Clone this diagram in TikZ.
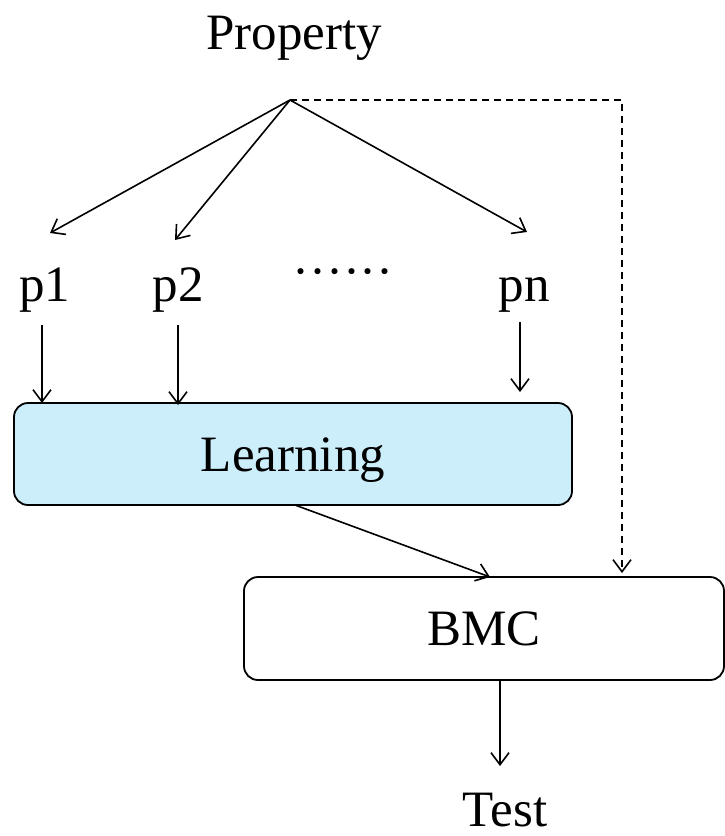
\documentclass[tikz,border=0pt]{standalone}
\usepackage{fontspec}
\setmainfont{Liberation Serif}
\usetikzlibrary{arrows.meta}
\definecolor{lightblue}{HTML}{CCEEFB}
\tikzset{
  lbl/.style={font=\fontsize{51}{60}\selectfont, inner sep=0pt, anchor=base},
  conn/.style={line width=1.6pt, -{Straight Barb[length=12pt,width=18pt,line width=1.6pt]}},
  dconn/.style={conn, dash pattern=on 7pt off 5pt},
  boxstyle/.style={draw, line width=1.8pt, rounded corners=14pt}
}
\begin{document}
\begin{tikzpicture}[x=1pt,y=-1pt]
\useasboundingbox (0,0) rectangle (725,836);
\node[lbl] (prop) at (294,49) {Property};
\coordinate (apex) at (290,100);
\coordinate (corner) at (622,100);
\node[lbl] (p1) at (45,301) {p1};
\node[lbl] (p2) at (178,301) {p2};
\node[lbl] (dots) at (343,288) {\textperiodcentered\textperiodcentered\textperiodcentered\textperiodcentered\textperiodcentered\textperiodcentered};
\node[lbl] (pn) at (524,301) {pn};
\coordinate (t1) at (50,233);
\coordinate (t2) at (175,240);
\coordinate (tn) at (527,232);
\draw[boxstyle, fill=lightblue] (14,403) rectangle (572,505);
\node[lbl] (learn) at (293,471) {Learning};
\draw[boxstyle] (244,577) rectangle (724,680);
\node[lbl] (bmc) at (484,645) {BMC};
\node[lbl] (test) at (505,826) {Test};
\coordinate (lb) at (295,505);
\coordinate (bt) at (490,577);
\coordinate (dn) at (622,573);
\draw[conn] (apex) -- (t1);
\draw[conn] (apex) -- (t2);
\draw[conn] (apex) -- (tn);
\draw[dconn] (apex) -- (corner) -- (dn);
\draw[conn] (42,325) -- (42,403);
\draw[conn] (178,325) -- (178,405);
\draw[conn] (520,322) -- (520,392);
\draw[conn] (lb) -- (bt);
\draw[conn] (500,680) -- (500,766);
\end{tikzpicture}
\end{document}
